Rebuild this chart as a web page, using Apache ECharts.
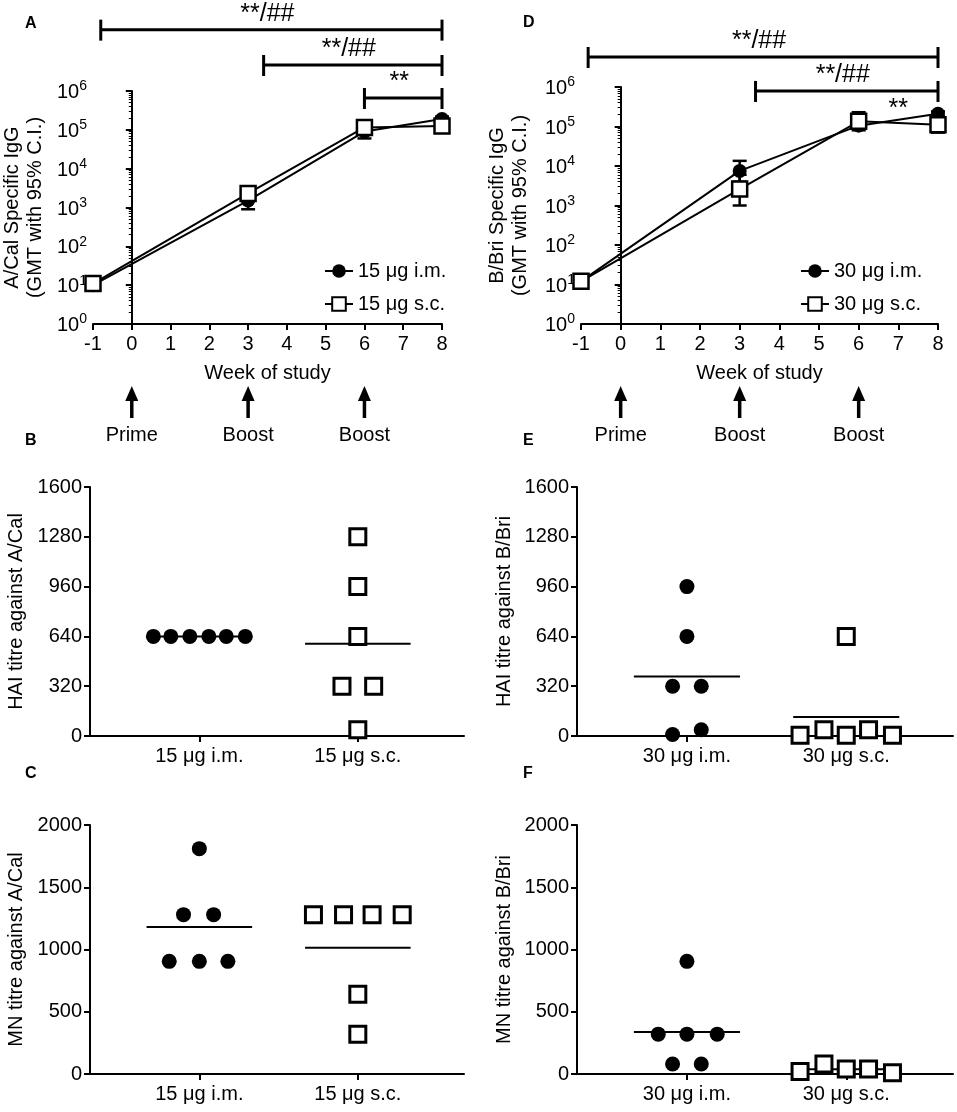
<!DOCTYPE html>
<html>
<head>
<meta charset="utf-8">
<script src="https://cdn.jsdelivr.net/npm/echarts@6/dist/echarts.min.js"></script>
<style>html,body{margin:0;background:#fff}#main{width:957px;height:1112px}</style>
</head>
<body>
<div id="main"></div>
<script>
// sampling weeks
const weeks = [-1, 3, 6, 8];
// A/Cal specific IgG, GMT with 95% CI
const calIm = [10, 1500, 90000, 190000];
const calImLo = [9, 900, 60000, 160000];
const calImHi = [12, 2500, 130000, 220000];
const calSc = [11, 2300, 115000, 125000];
const calScLo = [9, 1500, 80000, 100000];
const calScHi = [13, 3400, 160000, 150000];
// B/Bri specific IgG
const briIm = [12, 7500, 105000, 210000];
const briImLo = [10, 4000, 80000, 180000];
const briImHi = [14, 13500, 140000, 240000];
const briSc = [12, 2600, 135000, 110000];
const briScLo = [10, 1000, 90000, 70000];
const briScHi = [15, 6000, 230000, 150000];

// vaccinations
const doseWeeks = [0, 3, 6];
const doseNames = ['Prime', 'Boost', 'Boost'];

// significance brackets: from week, to week, log10 level, text
const sigCal = [[-0.8, 8, 7.58, '**/##'], [3.4, 8, 6.67, '**/##'], [6, 8, 5.82, '**']];
const sigBri = [[-0.82, 8, 6.76, '**/##'], [3.4, 8, 5.9, '**/##'], [7, 7, 5.06, '**']];

const groups15 = ['15 μg i.m.', '15 μg s.c.'];
const groups30 = ['30 μg i.m.', '30 μg s.c.'];

// HAI titres (x = group + jitter)
const haiCalIm = [640, 640, 640, 640, 640, 640];
const haiCalImX = [0.71, 0.82, 0.94, 1.06, 1.17, 1.29];
const haiCalSc = [1280, 960, 640, 320, 320, 40];
const haiCalScX = [2, 2, 2, 1.9, 2.1, 2];
const haiBriIm = [960, 640, 320, 320, 10, 40];
const haiBriImX = [1, 1, 0.91, 1.09, 0.91, 1.09];
const haiBriSc = [5, 40, 640, 5, 40, 5];
const haiBriScX = [1.71, 1.86, 2, 2, 2.14, 2.29];
// MN titres
const mnCalIm = [1810, 1280, 1280, 905, 905, 905];
const mnCalImX = [1, 0.9, 1.09, 0.81, 1, 1.18];
const mnCalSc = [1280, 1280, 1280, 1280, 640, 320];
const mnCalScX = [1.72, 1.91, 2.09, 2.28, 2, 2];
const mnBriIm = [905, 320, 320, 320, 80, 80];
const mnBriImX = [1, 0.82, 1, 1.19, 0.91, 1.09];
const mnBriSc = [20, 80, 40, 40, 10];
const mnBriScX = [1.71, 1.86, 2, 2.14, 2.29];

const FONT = 'Liberation Sans, Arial, sans-serif';
const chart = echarts.init(document.getElementById('main'));

const axisLine = { lineStyle: { color: '#000', width: 2 } };
const axisTick = { length: 6, lineStyle: { color: '#000', width: 2 } };
const nameStyle = { fontSize: 20, color: '#000', fontFamily: FONT, lineHeight: 23 };
const lblStyle = { fontSize: 20, color: '#000', fontFamily: FONT };

function mean(a) {
  return a.reduce((s, v) => s + v, 0) / a.length;
}

function weekAxis(gi) {
  return {
    type: 'value', gridIndex: gi, min: -1, max: 8, interval: 1,
    name: 'Week of study', nameLocation: 'middle', nameGap: 38, nameTextStyle: nameStyle,
    axisLine: axisLine, axisTick: axisTick,
    axisLabel: Object.assign({ margin: 10, formatter: v => String(v) }, lblStyle),
    splitLine: { show: false }
  };
}

function logAxis(gi, name, gap) {
  return {
    type: 'log', logBase: 10, gridIndex: gi, min: 1, max: 1e6, splitNumber: 6,
    name: name, nameLocation: 'middle', nameGap: gap, nameTextStyle: nameStyle,
    axisLine: axisLine, axisTick: axisTick,
    minorTick: { show: true, splitNumber: 9, length: 3, lineStyle: { color: '#000', width: 1 } },
    axisLabel: {
      margin: 6,
      formatter: v => '{b|10}{s|' + Math.round(Math.log10(v)) + '}',
      rich: {
        b: { fontSize: 20, color: '#000', fontFamily: FONT, verticalAlign: 'bottom' },
        s: { fontSize: 14, color: '#000', fontFamily: FONT, verticalAlign: 'bottom', padding: [0, 0, 9, 0] }
      }
    },
    splitLine: { show: false }
  };
}

function groupAxis(gi, labels) {
  return {
    type: 'value', gridIndex: gi, min: 0.31, max: 2.67,
    axisLine: axisLine,
    axisTick: Object.assign({ customValues: [1, 2] }, axisTick),
    axisLabel: Object.assign({ customValues: [1, 2], margin: 10, formatter: v => labels[Math.round(v) - 1] }, lblStyle),
    splitLine: { show: false }
  };
}

function titreAxis(gi, name, max, step, gap) {
  return {
    type: 'value', gridIndex: gi, min: 0, max: max, interval: step,
    name: name, nameLocation: 'middle', nameGap: gap, nameTextStyle: nameStyle,
    axisLine: axisLine, axisTick: axisTick,
    axisLabel: Object.assign({ margin: 8, formatter: v => String(v) }, lblStyle),
    splitLine: { show: false }
  };
}

function gmtLine(gi, name, vals, filled) {
  return {
    type: 'line', name: name, xAxisIndex: gi, yAxisIndex: gi, z: 3,
    data: weeks.map((w, i) => [w, vals[i]]),
    symbol: filled ? 'circle' : 'rect', symbolSize: filled ? 14 : 15, showAllSymbol: true,
    lineStyle: { color: '#000', width: 2 },
    itemStyle: filled ? { color: '#000', opacity: 1 } : { color: '#fff', borderColor: '#000', borderWidth: 2.5, opacity: 1 }
  };
}

function errBars(gi, lo, hi) {
  return {
    type: 'custom', xAxisIndex: gi, yAxisIndex: gi, z: 2,
    data: weeks.map((w, i) => [w, lo[i], hi[i]]),
    encode: { x: 0, y: [1, 2] },
    renderItem: (params, api) => {
      const a = api.coord([api.value(0), api.value(1)]);
      const b = api.coord([api.value(0), api.value(2)]);
      const st = { stroke: '#000', lineWidth: 2.5 };
      return {
        type: 'group', children: [
          { type: 'line', shape: { x1: a[0], y1: a[1], x2: b[0], y2: b[1] }, style: st },
          { type: 'line', shape: { x1: a[0] - 7, y1: a[1], x2: a[0] + 7, y2: a[1] }, style: st },
          { type: 'line', shape: { x1: b[0] - 7, y1: b[1], x2: b[0] + 7, y2: b[1] }, style: st }
        ]
      };
    }
  };
}

function sigBars(gi, list) {
  return {
    type: 'custom', xAxisIndex: gi, yAxisIndex: gi, clip: false, silent: true,
    data: list.map(d => [d[0], d[1], Math.pow(10, d[2])]),
    encode: { x: [0, 1], y: 2 },
    renderItem: (params, api) => {
      const a = api.coord([api.value(0), api.value(2)]);
      const b = api.coord([api.value(1), api.value(2)]);
      const st = { stroke: '#000', lineWidth: 3 };
      const kids = [];
      if (b[0] > a[0]) {
        kids.push({ type: 'line', shape: { x1: a[0], y1: a[1], x2: b[0], y2: b[1] }, style: st });
        kids.push({ type: 'line', shape: { x1: a[0], y1: a[1] - 10, x2: a[0], y2: a[1] + 11 }, style: st });
        kids.push({ type: 'line', shape: { x1: b[0], y1: b[1] - 10, x2: b[0], y2: b[1] + 11 }, style: st });
      }
      kids.push({
        type: 'text', x: (a[0] + b[0]) / 2 - (b[0] > a[0] ? 4 : 0), y: a[1] - 3,
        style: { text: list[params.dataIndex][3], fontSize: 25, fontFamily: FONT, fill: '#000', align: 'center', verticalAlign: 'bottom' }
      });
      return { type: 'group', children: kids };
    }
  };
}

function doses(gi) {
  return {
    type: 'custom', xAxisIndex: gi, yAxisIndex: gi, clip: false, silent: true,
    data: doseWeeks.map(w => [w, 1]),
    encode: { x: 0, y: 1 },
    renderItem: (params, api) => {
      const p = api.coord([api.value(0), 1]);
      const x = p[0], y = p[1];
      return {
        type: 'group', children: [
          { type: 'line', shape: { x1: x, y1: y + 74, x2: x, y2: y + 94 }, style: { stroke: '#000', lineWidth: 3.5 } },
          { type: 'polygon', shape: { points: [[x, y + 62], [x - 6.5, y + 77], [x + 6.5, y + 77]] }, style: { fill: '#000' } },
          { type: 'text', x: x, y: y + 111, style: { text: doseNames[params.dataIndex], fontSize: 20, fontFamily: FONT, fill: '#000', align: 'center', verticalAlign: 'middle' } }
        ]
      };
    }
  };
}

function dots(gi, xs, ys, filled) {
  return {
    type: 'scatter', xAxisIndex: gi, yAxisIndex: gi, z: 3,
    data: xs.map((x, i) => [x, ys[i]]),
    symbol: filled ? 'circle' : 'rect', symbolSize: filled ? 15 : 16,
    itemStyle: filled ? { color: '#000', opacity: 1 } : { color: '#fff', borderColor: '#000', borderWidth: 3, opacity: 1 }
  };
}

function meanLine(gi, g, ys) {
  const m = mean(ys);
  return {
    type: 'line', xAxisIndex: gi, yAxisIndex: gi, z: 1, symbol: 'none',
    data: [[g - 0.333, m], [g + 0.333, m]],
    lineStyle: { color: '#000', width: 2 }
  };
}

const letter = (t, x, y) => ({ text: t, left: x, top: y, textStyle: { fontSize: 16, fontWeight: 'bold', color: '#000', fontFamily: FONT } });

const legendBox = (x, names) => ({
  left: x, top: 256, orient: 'vertical', itemGap: 13, itemWidth: 28, itemHeight: 17, selectedMode: false,
  data: names, textStyle: lblStyle
});

const option = {
  animation: false,
  backgroundColor: '#fff',
  title: [letter('A', 20, 11), letter('D', 518, 10), letter('B', 20, 428), letter('E', 518, 428), letter('C', 20, 761), letter('F', 518, 761)],
  legend: [legendBox(319, ['15 μg i.m.', '15 μg s.c.']), legendBox(795, ['30 μg i.m.', '30 μg s.c.'])],
  grid: [
    { left: 90, top: 91, width: 352, height: 233 },
    { left: 581, top: 87, width: 357, height: 237 },
    { left: 90, top: 487, width: 374, height: 249 },
    { left: 577, top: 487, width: 376, height: 249 },
    { left: 90, top: 825, width: 374, height: 249 },
    { left: 577, top: 825, width: 376, height: 249 }
  ],
  xAxis: [weekAxis(0), weekAxis(1), groupAxis(2, groups15), groupAxis(3, groups30), groupAxis(4, groups15), groupAxis(5, groups30)],
  yAxis: [
    logAxis(0, 'A/Cal Specific IgG\n(GMT with 95% C.I.)', 46),
    logAxis(1, 'B/Bri Specific IgG\n(GMT with 95% C.I.)', 49),
    titreAxis(2, 'HAI titre against A/Cal', 1600, 320, 62),
    titreAxis(3, 'HAI titre against B/Bri', 1600, 320, 61),
    titreAxis(4, 'MN titre against A/Cal', 2000, 500, 62),
    titreAxis(5, 'MN titre against B/Bri', 2000, 500, 61)
  ],
  series: [
    errBars(0, calImLo, calImHi), errBars(0, calScLo, calScHi),
    gmtLine(0, '15 μg i.m.', calIm, true), gmtLine(0, '15 μg s.c.', calSc, false),
    sigBars(0, sigCal), doses(0),
    errBars(1, briImLo, briImHi), errBars(1, briScLo, briScHi),
    gmtLine(1, '30 μg i.m.', briIm, true), gmtLine(1, '30 μg s.c.', briSc, false),
    sigBars(1, sigBri), doses(1),
    meanLine(2, 1, haiCalIm), meanLine(2, 2, haiCalSc),
    dots(2, haiCalImX, haiCalIm, true), dots(2, haiCalScX, haiCalSc, false),
    meanLine(3, 1, haiBriIm), meanLine(3, 2, haiBriSc),
    dots(3, haiBriImX, haiBriIm, true), dots(3, haiBriScX, haiBriSc, false),
    meanLine(4, 1, mnCalIm), meanLine(4, 2, mnCalSc),
    dots(4, mnCalImX, mnCalIm, true), dots(4, mnCalScX, mnCalSc, false),
    meanLine(5, 1, mnBriIm), meanLine(5, 2, mnBriSc),
    dots(5, mnBriImX, mnBriIm, true), dots(5, mnBriScX, mnBriSc, false)
  ]
};
chart.setOption(option);
</script>
</body>
</html>
